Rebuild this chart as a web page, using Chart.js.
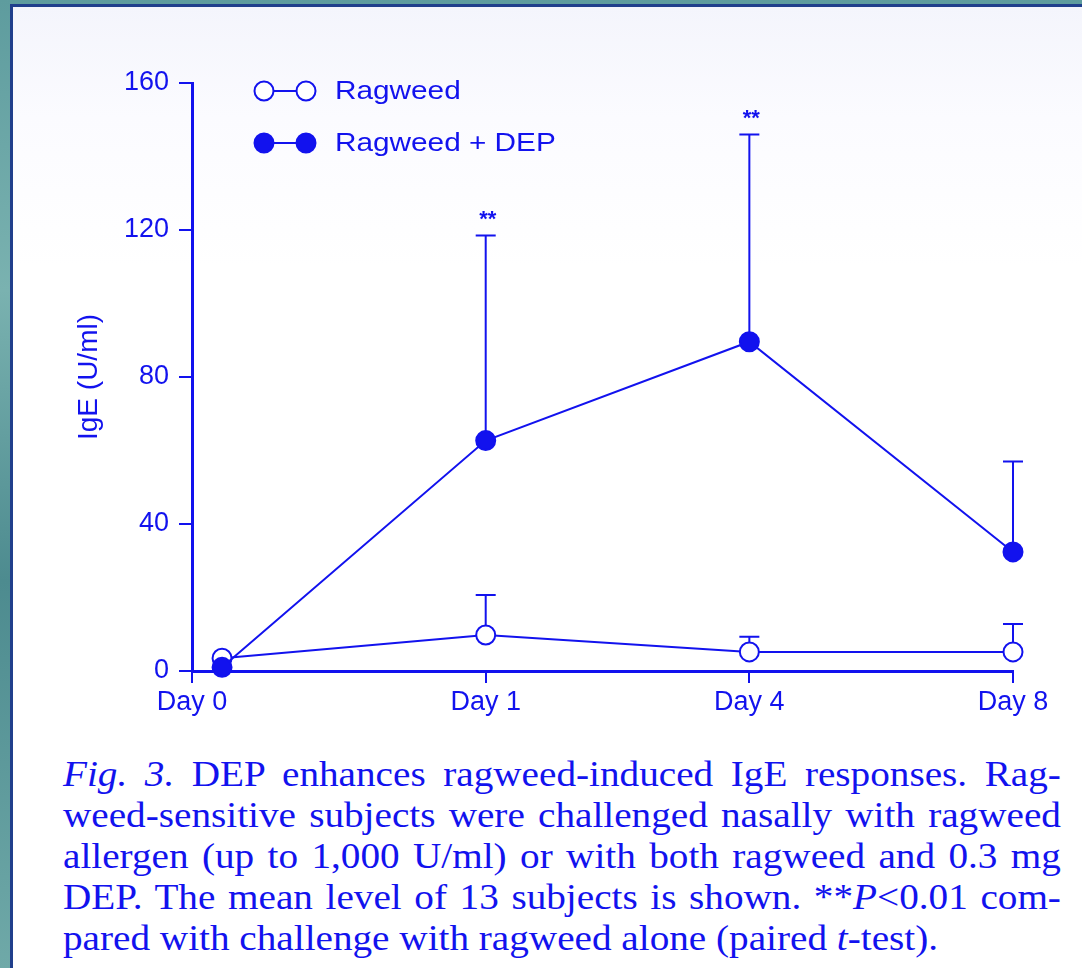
<!DOCTYPE html>
<html>
<head>
<meta charset="utf-8">
<script src="https://cdn.jsdelivr.net/npm/chart.js@4.4.1/dist/chart.umd.min.js"></script>
<style>
  html, body { margin: 0; padding: 0; }
  body {
    width: 1082px; height: 968px; overflow: hidden; position: relative;
    background: linear-gradient(180deg, #5e9c9e 0%, #7ab2b0 30%, #4d8b8f 60%, #6fa9a8 100%);
  }
  #paper {
    position: absolute; left: 10px; top: 4px; right: 0; bottom: 0;
    background: linear-gradient(180deg, #f4f5fc 0px, #fbfbff 110px, #ffffff 260px);
    border-left: 3px solid #203f8c; border-top: 3px solid #203f8c;
  }
  #wrap { position: absolute; left: 0; top: 0; width: 1082px; height: 740px; }
  #caption {
    position: absolute; left: 63px; top: 754px; width: 891px;
    transform: scaleX(1.12); transform-origin: 0 0;
    font-family: "Liberation Serif", "Times New Roman", serif;
    font-size: 35px; line-height: 41px; color: #1212ee;
  }
  .ln { text-align: justify; text-align-last: justify; white-space: nowrap; }
  .ln.last { text-align: left; text-align-last: left; }
</style>
</head>
<body>
<div id="paper"></div>
<div id="wrap"><canvas id="ige-chart" width="1082" height="740"></canvas></div>
<div id="caption">
  <div class="ln"><i>Fig. 3.</i> DEP enhances ragweed-induced IgE responses. Rag-</div>
  <div class="ln">weed-sensitive subjects were challenged nasally with ragweed</div>
  <div class="ln">allergen (up to 1,000 U/ml) or with both ragweed and 0.3 mg</div>
  <div class="ln">DEP. The mean level of 13 subjects is shown. **<i>P</i>&lt;0.01 com-</div>
  <div class="ln last">pared with challenge with ragweed alone (paired <i>t</i>-test).</div>
</div>
<script>
// dati
const dayLabels = ['Day 0', 'Day 1', 'Day 4', 'Day 8'];
const dayPos = [0, 1, 2, 3];
const ragweedMean = [3.5, 9.8, 5.2, 5.2];
const ragweedErr = [0, 10.9, 4.1, 7.6];
const depMean = [1, 62.7, 89.6, 32.4];
const depErr = [0, 55.8, 56.4, 24.6];
const depStars = ['', '**', '**', ''];
const seriesNames = ['Ragweed', 'Ragweed + DEP'];

const blue = '#1212ee';
const sans = '"Liberation Sans", Arial, Helvetica, sans-serif';
Chart.defaults.font.family = sans;

// barre di errore (solo verso l'alto) e asterischi
const errorBars = {
  id: 'errorBars',
  beforeDatasetsDraw(chart) {
    const ctx = chart.ctx;
    const y = chart.scales.y;
    chart.data.datasets.forEach((ds, i) => {
      const meta = chart.getDatasetMeta(i);
      ctx.save();
      ctx.strokeStyle = blue;
      ctx.fillStyle = blue;
      ctx.lineWidth = 2;
      meta.data.forEach((pt, j) => {
        const err = ds.errUp[j];
        if (!err) return;
        const top = y.getPixelForValue(ds.data[j].y + err);
        ctx.beginPath();
        ctx.moveTo(pt.x, pt.y);
        ctx.lineTo(pt.x, top);
        ctx.moveTo(pt.x - 10, top);
        ctx.lineTo(pt.x + 10, top);
        ctx.stroke();
        if (ds.stars && ds.stars[j]) {
          ctx.font = 'bold 22px ' + sans;
          ctx.textAlign = 'center';
          ctx.textBaseline = 'middle';
          ctx.fillText(ds.stars[j], pt.x + 2, top - 16);
        }
      });
      ctx.restore();
    });
  }
};

// legenda disegnata a mano: o-o Ragweed
const lineLegend = {
  id: 'lineLegend',
  afterDraw(chart) {
    const ctx = chart.ctx;
    const a = chart.chartArea;
    chart.data.datasets.forEach((ds, i) => {
      const yy = a.top + 8 + i * 52;
      const x1 = a.left + 72, x2 = a.left + 114;
      ctx.save();
      ctx.strokeStyle = blue;
      ctx.lineWidth = 2;
      ctx.beginPath();
      ctx.moveTo(x1, yy); ctx.lineTo(x2, yy);
      ctx.stroke();
      [x1, x2].forEach(cx => {
        ctx.beginPath();
        ctx.arc(cx, yy, 9.5, 0, Math.PI * 2);
        ctx.fillStyle = ds.pointBackgroundColor;
        ctx.fill();
        ctx.stroke();
      });
      // testo un po' allargato come nella scansione
      ctx.translate(a.left + 143, yy + 1);
      ctx.scale(1.19, 1);
      ctx.fillStyle = blue;
      ctx.font = '25px ' + sans;
      ctx.textBaseline = 'middle';
      ctx.fillText(ds.label, 0, 0);
      ctx.restore();
    });
  }
};

const toPoints = vals => vals.map((v, i) => ({ x: dayPos[i], y: v }));

const data = {
  datasets: [
    {
      label: seriesNames[0],
      data: toPoints(ragweedMean),
      errUp: ragweedErr,
      borderColor: blue,
      borderWidth: 2,
      pointRadius: 9.5,
      pointBorderWidth: 2,
      pointBackgroundColor: '#ffffff',
      pointBorderColor: blue,
      order: 1,
      clip: false
    },
    {
      label: seriesNames[1],
      data: toPoints(depMean),
      errUp: depErr,
      stars: depStars,
      borderColor: blue,
      borderWidth: 2,
      pointRadius: 9.5,
      pointBorderWidth: 2,
      pointBackgroundColor: blue,
      pointBorderColor: blue,
      order: 0,
      clip: false
    }
  ]
};

const tickFont = { family: sans, size: 27 };

const options = {
  responsive: false,
  animation: false,
  events: [],
  layout: { padding: { left: 68, right: 69, top: 83, bottom: 0 } },
  plugins: { legend: { display: false }, tooltip: { enabled: false } },
  scales: {
    x: {
      type: 'linear',
      min: -0.114,
      max: 3,
      afterBuildTicks: s => { s.ticks = dayLabels.map((_, i) => ({ value: i === 0 ? s.min : dayPos[i] })); },
      afterFit: s => { s.height = 69; },
      ticks: {
        callback: (v, i) => dayLabels[i],
        color: blue, font: tickFont, padding: 3, maxRotation: 0, autoSkip: false
      },
      grid: { drawOnChartArea: false, color: blue, lineWidth: 2, tickLength: 12 },
      border: { color: blue, width: 3 }
    },
    y: {
      min: 0,
      max: 160,
      afterFit: s => { s.width = 124; },
      ticks: { stepSize: 40, color: blue, font: tickFont, padding: 10 },
      grid: { drawOnChartArea: false, color: blue, lineWidth: 2, tickLength: 13 },
      border: { color: blue, width: 3 },
      title: { display: true, text: 'IgE (U/ml)', color: blue, font: { family: sans, size: 28 }, padding: 4 }
    }
  }
};

new Chart(document.getElementById('ige-chart').getContext('2d'), {
  type: 'line',
  data: data,
  options: options,
  plugins: [errorBars, lineLegend]
});
</script>
</body>
</html>
